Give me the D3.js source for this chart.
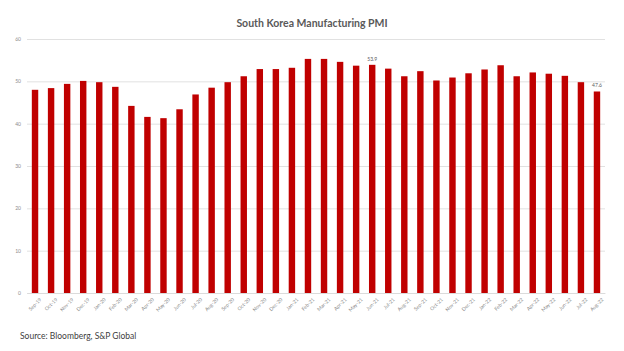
<!DOCTYPE html>
<html>
<head>
<meta charset="utf-8">
<script src="https://cdn.jsdelivr.net/npm/d3@7"></script>
<style>
  body { margin: 0; background: #fff; }
  svg { display: block; font-family: Lato, "Open Sans", sans-serif; }
</style>
</head>
<body>
<svg width="624" height="351"></svg>
<script>
// South Korea manufacturing PMI, monthly
var months = ["Sep-19", "Oct-19", "Nov-19", "Dec-19", "Jan-20", "Feb-20", "Mar-20", "Apr-20",
    "May-20", "Jun-20", "Jul-20", "Aug-20", "Sep-20", "Oct-20", "Nov-20", "Dec-20",
    "Jan-21", "Feb-21", "Mar-21", "Apr-21", "May-21", "Jun-21", "Jul-21", "Aug-21",
    "Sep-21", "Oct-21", "Nov-21", "Dec-21", "Jan-22", "Feb-22", "Mar-22", "Apr-22",
    "May-22", "Jun-22", "Jul-22", "Aug-22"];
var pmi = [48.0, 48.4, 49.4, 50.1, 49.8, 48.7, 44.2, 41.6,
    41.3, 43.4, 46.9, 48.5, 49.8, 51.2, 52.9, 52.9,
    53.2, 55.3, 55.3, 54.6, 53.7, 53.9, 53.0, 51.2,
    52.4, 50.2, 50.9, 51.9, 52.8, 53.8, 51.2, 52.1,
    51.8, 51.3, 49.8, 47.6];
var labelled = ["Jun-21", "Aug-22"];
var yTicks = [0, 10, 20, 30, 40, 50, 60];

var svg = d3.select("svg"),
    plotLeft = 27, plotRight = 605,
    plotTop = 39, plotBottom = 293;

var data = months.map(function(m, i) { return {month: m, value: pmi[i]}; });

var x = d3.scaleBand()
    .domain(months)
    .range([plotLeft, plotRight])
    .paddingInner(0.6)
    .paddingOuter(0.3);

var y = d3.scaleLinear()
    .domain([0, 60])
    .range([plotBottom, plotTop]);

// title
svg.append("text")
    .attr("x", 312)
    .attr("y", 27)
    .attr("text-anchor", "middle")
    .attr("font-size", "10.5px")
    .attr("font-weight", "bold")
    .attr("fill", "#595959")
    .text("South Korea Manufacturing PMI");

// gridlines + y labels
var yAxis = svg.append("g")
    .attr("transform", "translate(" + plotLeft + ",0)")
    .call(d3.axisLeft(y).tickValues(yTicks).tickSize(-(plotRight - plotLeft)).tickPadding(6));
yAxis.select(".domain").remove();
yAxis.selectAll("line").attr("stroke", "#d9d9d9").attr("stroke-width", 0.8);
yAxis.selectAll("text")
    .attr("fill", "#8c8c8c")
    .style("font-size", "5px")
    .style("font-family", "Lato, sans-serif");

// bars
svg.selectAll(".bar")
    .data(data)
    .enter().append("rect")
    .attr("class", "bar")
    .attr("x", function(d) { return x(d.month); })
    .attr("width", x.bandwidth())
    .attr("y", function(d) { return y(d.value); })
    .attr("height", function(d) { return y(0) - y(d.value); })
    .attr("fill", "#c00000");

// value labels
svg.selectAll(".val")
    .data(data.filter(function(d) { return labelled.indexOf(d.month) >= 0; }))
    .enter().append("text")
    .attr("x", function(d) { return x(d.month) + x.bandwidth() / 2; })
    .attr("y", function(d) { return y(d.value) - 4; })
    .attr("text-anchor", "middle")
    .attr("font-size", "5px")
    .attr("fill", "#595959")
    .text(function(d) { return d.value.toFixed(1); });

// x axis
var xAxis = svg.append("g")
    .attr("transform", "translate(0," + plotBottom + ")")
    .call(d3.axisBottom(x).tickSize(0).tickPadding(4));
xAxis.select(".domain").attr("stroke", "#d9d9d9").attr("stroke-width", 0.8);
xAxis.selectAll("text")
    .attr("fill", "#8c8c8c")
    .style("font-size", "5px")
    .style("font-family", "Lato, sans-serif")
    .attr("text-anchor", "end")
    .attr("dy", "0.3em")
    .attr("transform", "translate(3,3) rotate(-45)");

// source
svg.append("text")
    .attr("x", 20)
    .attr("y", 339)
    .attr("font-size", "8.5px")
    .attr("fill", "#404040")
    .text("Source: Bloomberg, S&P Global");
</script>
</body>
</html>
